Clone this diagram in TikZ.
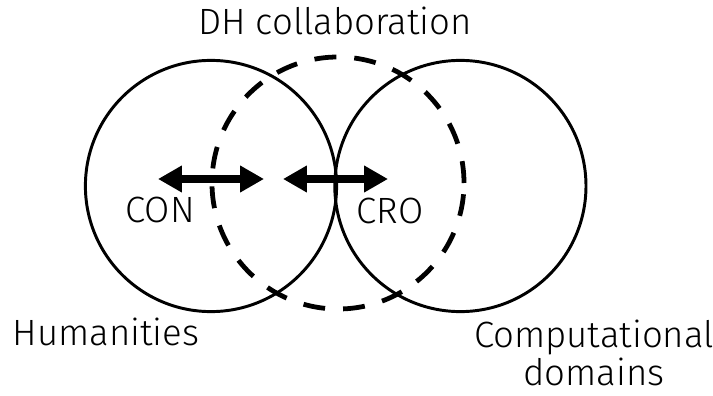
\documentclass[tikz,border=0pt]{standalone}
\usepackage{fontspec}
\setmainfont{Fira Sans Light}
\usetikzlibrary{arrows.meta, positioning}

\begin{document}
\begin{tikzpicture}[>={Triangle[length=17pt, width=18pt]},
    field/.style={draw, circle, line width=2.1pt, minimum size=6.28cm, inner sep=0pt},
    txt/.style={font=\fontsize{26}{27}\selectfont, inner sep=0pt}]
  \useasboundingbox (0,0) rectangle (17.825,-9.9);

  % the two domains and the collaboration between them
  \node[field] (hum) at (5.275,-4.65) {};
  \node[field] (comp) at (11.51,-4.65) {};
  \node[field, line width=3.4pt, dash pattern=on 15.6pt off 12.8pt,
        minimum size=6.3cm] (dh) at (8.45,-4.575) {};

  % double arrows
  \coordinate (conL) at (3.95,-4.475);
  \coordinate (conR) at (6.6,-4.475);
  \coordinate (croL) at (7.075,-4.475);
  \coordinate (croR) at (9.7,-4.475);
  \draw[<->, line width=5pt] (conL) -- (conR);
  \draw[<->, line width=5pt] (croL) -- (croR);

  \node[txt, anchor=base] (dhlbl) at (8.375,-0.875) {DH collaboration};
  \node[txt, anchor=base] (con) at (4.0,-5.55) {CON};
  \node[txt, anchor=base] (cro) at (9.75,-5.575) {CRO};
  \node[txt, anchor=base] (humlbl) at (2.65,-8.625) {Humanities};
  \node[txt, anchor=base, align=center] (complbl) at (14.85,-9.625)
    {Computational\\domains};
\end{tikzpicture}
\end{document}
